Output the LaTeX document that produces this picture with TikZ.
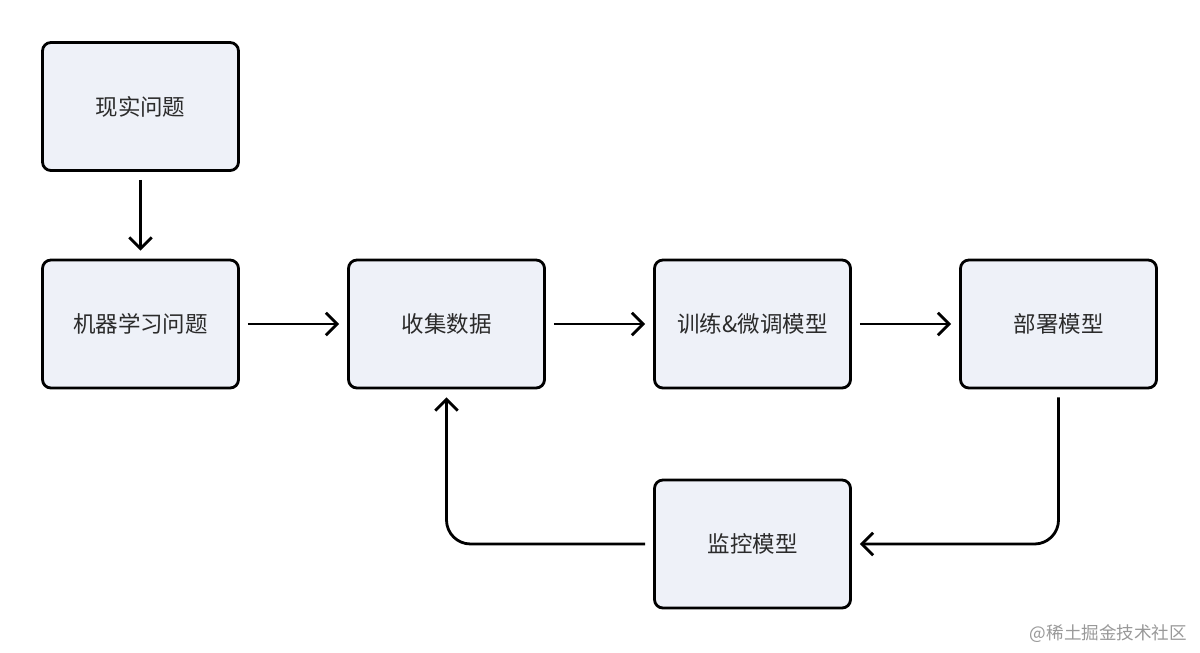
\documentclass[tikz,border=0pt]{standalone}
\usepackage{fontspec}
\setmainfont{Noto Sans CJK SC}
\usetikzlibrary{arrows.meta}
\definecolor{boxfill}{HTML}{EEF1F8}
\definecolor{boxtext}{HTML}{2B2B2B}
\tikzset{
  stagebox/.style={draw, line width=2pt, rounded corners=6pt, fill=boxfill,
    minimum width=4.9cm, minimum height=3.2cm, inner sep=0pt,
    text=boxtext, font=\fontsize{16}{18}\selectfont},
  flow/.style={line width=2pt, -{Straight Barb[length=8pt,width=16pt,line width=2pt]},
    shorten <=0.2cm, shorten >=0.2cm}
}
\begin{document}
\begin{tikzpicture}
\useasboundingbox[fill=white] (0,0) rectangle (30,-16.3);
\node[stagebox] (real) at (3.5125,-2.6625) {现实问题};
\node[stagebox] (ml) at (3.5125,-8.1) {机器学习问题};
\node[stagebox] (data) at (11.1625,-8.1) {收集数据};
\node[stagebox] (train) at (18.8125,-8.1) {训练\&微调模型};
\node[stagebox] (deploy) at (26.4625,-8.1) {部署模型};
\node[stagebox] (monitor) at (18.8125,-13.6) {监控模型};
\draw[flow] (real) -- (ml);
\draw[flow] (ml) -- (data);
\draw[flow] (data) -- (train);
\draw[flow] (train) -- (deploy);
\draw[flow, rounded corners=0.6cm] (deploy.south) -- (deploy.south |- monitor.east) -- (monitor.east);
\draw[flow, rounded corners=0.6cm] (monitor.west) -- (data.south |- monitor.west) -- (data.south);
\node[text=black!40, font=\fontsize{12.5}{14}\selectfont, anchor=east] (credit) at (29.8,-15.85) {@稀土掘金技术社区};
\end{tikzpicture}
\end{document}
